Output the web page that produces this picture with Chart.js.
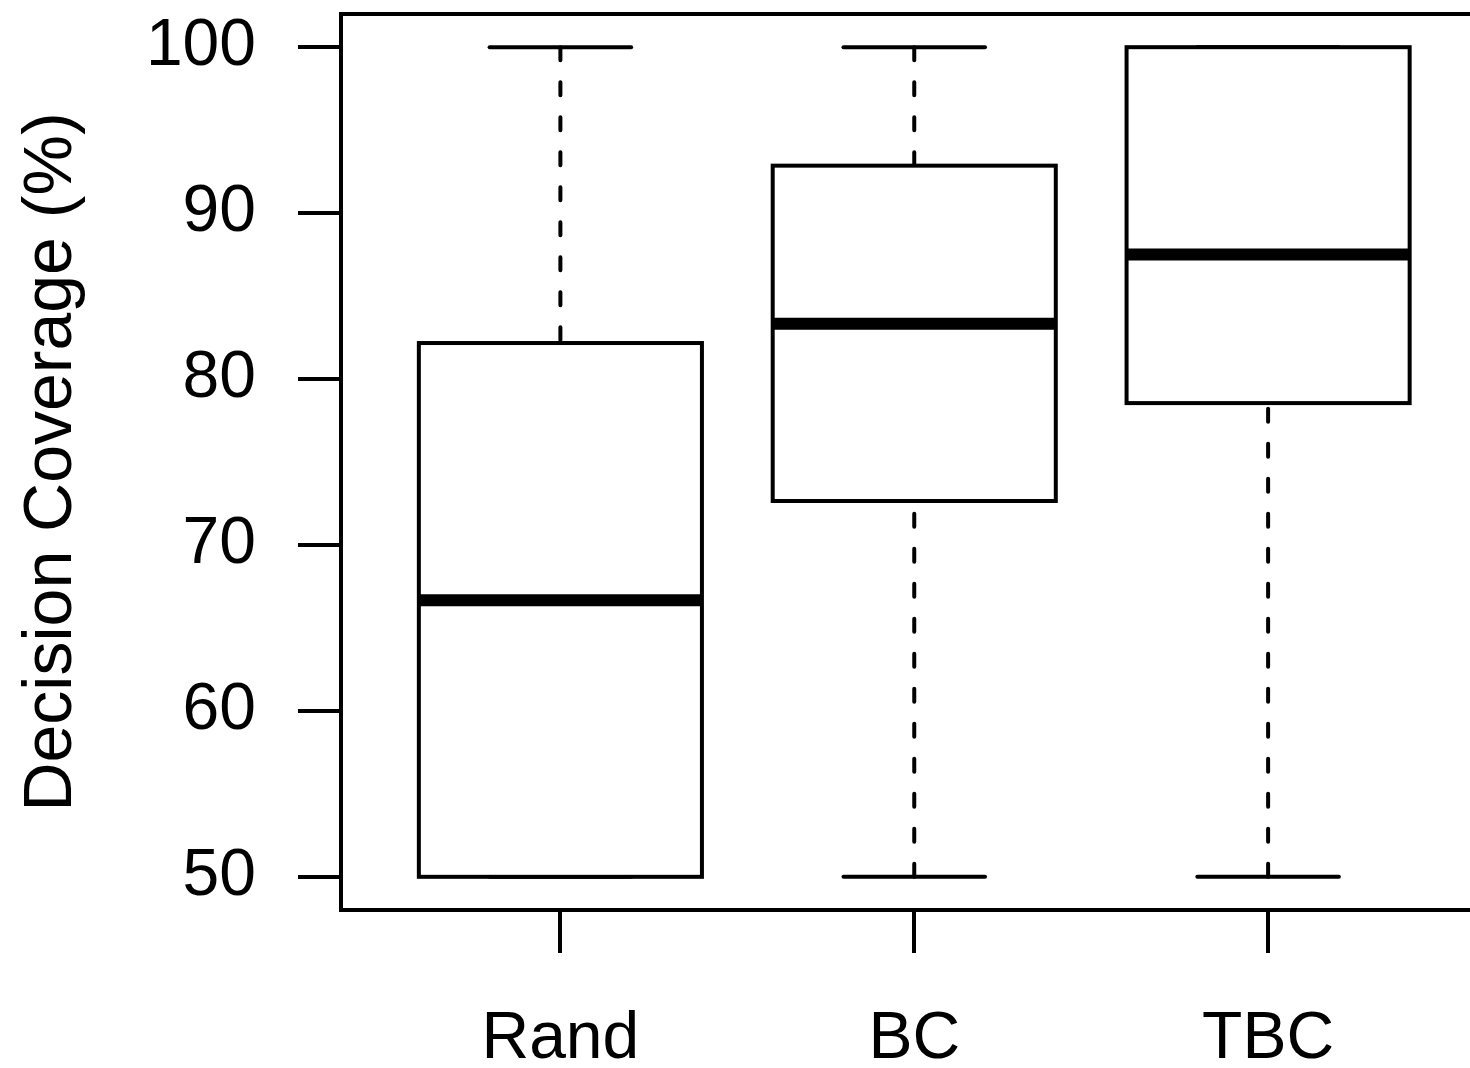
<!DOCTYPE html>
<html>
<head>
<meta charset="utf-8">
<script src="https://cdn.jsdelivr.net/npm/chart.js@4"></script>
<style>
  html, body { margin: 0; padding: 0; background: #fff; overflow: hidden; }
  #wrap { width: 1470px; height: 1068px; overflow: hidden; position: relative; }
  canvas { display: block; }
</style>
</head>
<body>
<div id="wrap"><canvas id="c" width="1500" height="1068" style="width:1500px;height:1068px"></canvas></div>
<script>
// ---- data ----
const categories = ['Rand', 'BC', 'TBC'];
const whiskerLow = [50, 50, 50];
const q1 = [50, 72.65, 78.55];
const median = [66.67, 83.33, 87.5];
const q3 = [82.17, 92.86, 100];
const whiskerHigh = [100, 100, 100];
const yTicks = [50, 60, 70, 80, 90, 100];
const yTitle = 'Decision Coverage (%)';

// ---- styles ----
const FONT = '"Liberation Sans", Helvetica, Arial, sans-serif';
const LW = 4;
const STAPLE_HALF = 0.2; // in category units

const boxPlugin = {
  id: 'boxplot',
  beforeDatasetsDraw(chart) {
    const { ctx } = chart;
    const xs = chart.scales.x, ys = chart.scales.y;
    ctx.save();
    ctx.strokeStyle = '#000';
    ctx.lineWidth = LW;
    ctx.lineCap = 'round';
    categories.forEach((c, i) => {
      const px = xs.getPixelForValue(i + 1);
      ctx.setLineDash([13, 22]);
      [[whiskerLow[i], q1[i]], [whiskerHigh[i], q3[i]]].forEach(([a, b]) => {
        if (a === b) return;
        ctx.beginPath();
        ctx.moveTo(px, ys.getPixelForValue(a));
        ctx.lineTo(px, ys.getPixelForValue(b));
        ctx.stroke();
      });
      ctx.setLineDash([]);
      const x0 = xs.getPixelForValue(i + 1 - STAPLE_HALF);
      const x1 = xs.getPixelForValue(i + 1 + STAPLE_HALF);
      [whiskerLow[i], whiskerHigh[i]].forEach(v => {
        const py = ys.getPixelForValue(v);
        ctx.beginPath();
        ctx.moveTo(x0, py);
        ctx.lineTo(x1, py);
        ctx.stroke();
      });
    });
    ctx.restore();
  },
  afterDatasetsDraw(chart) {
    const { ctx } = chart;
    const ys = chart.scales.y;
    const meta = chart.getDatasetMeta(0);
    ctx.save();
    ctx.strokeStyle = '#000';
    ctx.lineJoin = 'miter';
    meta.data.forEach((el, i) => {
      const p = el.getProps(['x', 'y', 'base', 'width'], true);
      const left = p.x - p.width / 2;
      const top = Math.min(p.y, p.base);
      const h = Math.abs(p.base - p.y);
      ctx.lineWidth = LW;
      ctx.strokeRect(left, top, p.width, h);
      const my = ys.getPixelForValue(median[i]);
      ctx.lineWidth = 12;
      ctx.lineCap = 'butt';
      ctx.beginPath();
      ctx.moveTo(left, my);
      ctx.lineTo(left + p.width, my);
      ctx.stroke();
    });
    ctx.restore();
  },
  afterDraw(chart) {
    const { ctx, chartArea: a } = chart;
    ctx.save();
    ctx.strokeStyle = '#000';
    ctx.lineWidth = LW;
    ctx.lineJoin = 'miter';
    ctx.strokeRect(a.left, a.top, a.right - a.left, a.bottom - a.top);
    ctx.restore();
  }
};

new Chart(document.getElementById('c'), {
  type: 'bar',
  data: {
    datasets: [{
      label: 'IQR',
      data: categories.map((c, i) => ({ x: i + 1, y: [q1[i], q3[i]] })),
      backgroundColor: '#ffffff',
      borderWidth: 0,
      categoryPercentage: 1.0,
      barPercentage: 0.8
    }]
  },
  options: {
    responsive: false,
    animation: false,
    devicePixelRatio: 1,
    layout: { padding: { top: 14, right: 12.5, bottom: 0, left: 0 } },
    plugins: { legend: { display: false }, tooltip: { enabled: false } },
    scales: {
      x: {
        type: 'linear',
        position: 'bottom',
        min: 0.38,
        max: 3.62,
        offset: false,
        afterBuildTicks: s => { s.ticks = categories.map((c, i) => ({ value: i + 1 })); },
        afterFit: s => { s.height = 158; s.paddingLeft = 0; s.paddingRight = 0; s.paddingTop = 0; s.paddingBottom = 0; },
        ticks: {
          autoSkip: false,
          maxRotation: 0,
          padding: 47,
          color: '#000',
          font: { family: FONT, size: 66 },
          callback: v => categories[Math.round(v) - 1]
        },
        grid: { offset: false, drawOnChartArea: false, drawTicks: true, tickLength: 43, color: '#000', lineWidth: LW },
        border: { display: false }
      },
      y: {
        type: 'linear',
        position: 'left',
        min: 48,
        max: 102,
        afterBuildTicks: s => { s.ticks = yTicks.map(v => ({ value: v })); },
        afterFit: s => { s.width = 341; s.paddingTop = 0; s.paddingBottom = 0; s.paddingLeft = 0; s.paddingRight = 0; },
        ticks: {
          padding: 42,
          color: '#000',
          font: { family: FONT, size: 66 },
          callback: v => String(v)
        },
        grid: { drawOnChartArea: false, drawTicks: true, tickLength: 43, color: '#000', lineWidth: LW },
        border: { display: false },
        title: {
          display: true,
          text: yTitle,
          color: '#000',
          font: { family: FONT, size: 68 },
          padding: { top: 11, bottom: 0 }
        }
      }
    }
  },
  plugins: [boxPlugin]
});
</script>
</body>
</html>
